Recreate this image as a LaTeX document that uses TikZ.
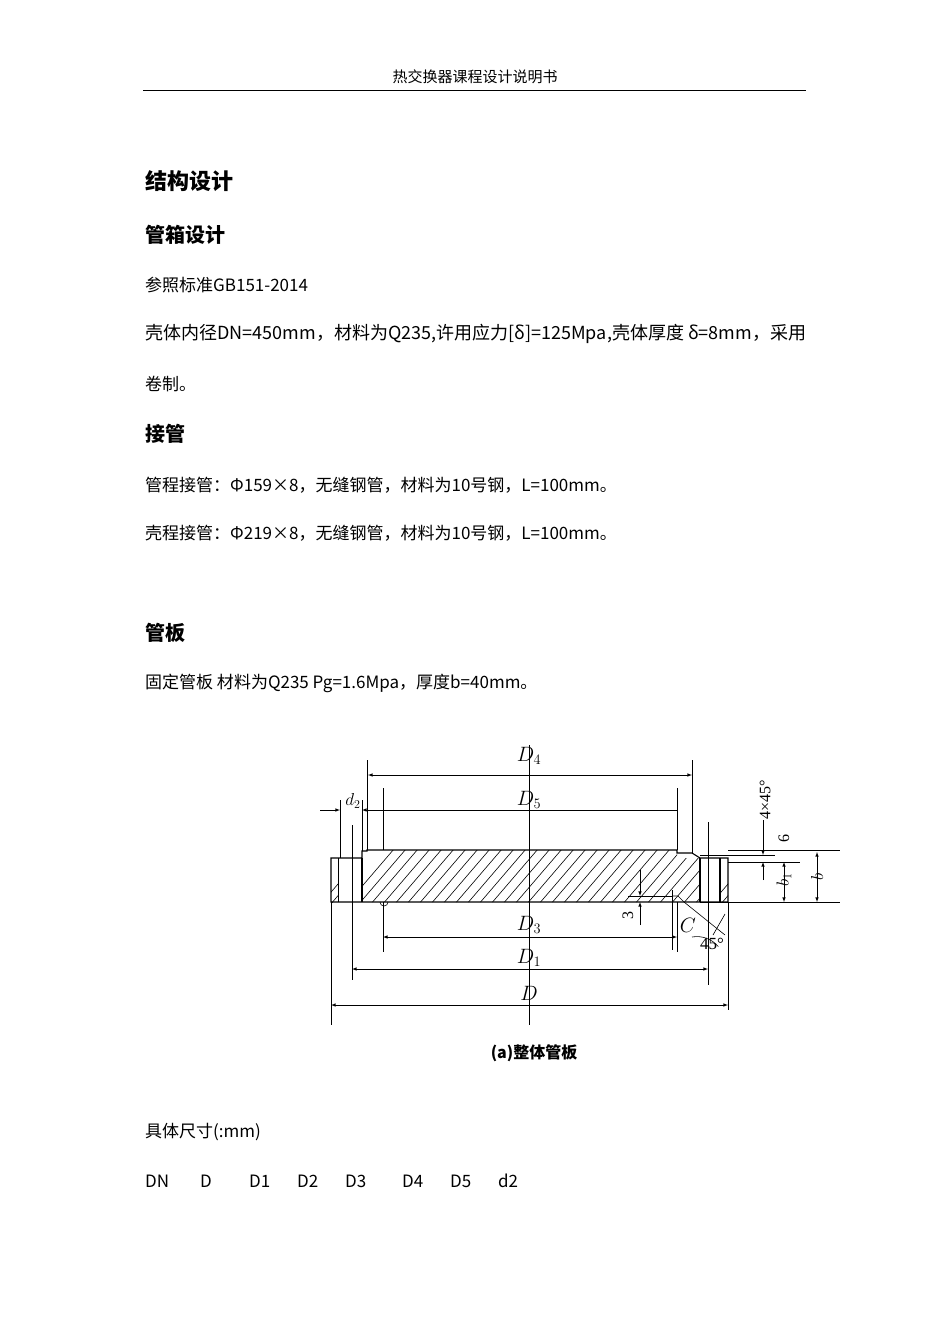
\documentclass[tikz,border=0pt]{standalone}
\usepackage{fontspec}
\setmainfont{Noto Sans CJK SC}
\newfontfamily\latn{Liberation Serif}
\begin{document}
\begin{tikzpicture}[x=1pt,y=-1pt,
 txt/.style={anchor=west,inner sep=0,font=\fontsize{17}{17}\selectfont},
 hd/.style={anchor=west,inner sep=0,font=\fontsize{20}{20}\selectfont\bfseries},
 ln/.style={line width=1.1pt},
 thin/.style={line width=0.6pt},
 dim/.style={line width=0.6pt,-latex},
 dl/.style={font=\fontsize{21}{21}\selectfont\latn\itshape,inner sep=1pt}]
\useasboundingbox (0,0) rectangle (950,1344);
\node[inner sep=0,font=\fontsize{15}{15}\selectfont] (hdr) at (475,77) {热交换器课程设计说明书};
\draw[line width=0.8pt] (143,90) -- (806,90);
\node[hd,font=\fontsize{22}{22}\selectfont\bfseries] (h1) at (145,181) {结构设计};
\node[hd] (h2) at (145,235) {管箱设计};
\node[txt] (t1) at (145,285) {参照标准GB151-2014};
\node[txt] (t2) at (145,334) {\resizebox{661pt}{!}{壳体内径DN=450mm，材料为Q235,许用应力[δ]=125Mpa,壳体厚度 δ=8mm，采用}};
\node[txt] (t3) at (145,384) {卷制。};
\node[hd] (h3) at (145,434) {接管};
\node[txt] (t4) at (145,485) {管程接管：Φ159×8，无缝钢管，材料为10号钢，L=100mm。};
\node[txt] (t5) at (145,533) {壳程接管：Φ219×8，无缝钢管，材料为10号钢，L=100mm。};
\node[hd] (h4) at (145,633) {管板};
\node[txt] (t6) at (145,683) {固定管板 材料为Q235 Pg=1.6Mpa，厚度b=40mm。};
\node[txt] (t7) at (145,1132) {具体尺寸(:mm)};
\foreach \x/\s in {145/DN,200/D,249/D1,297/D2,345/D3,402/D4,450/D5,498/d2}
  \node[txt] at (\x,1181) {\s};
% drawing
\begin{scope}
\clip (362,858) -- (367,858) -- (367,850) -- (677,850) -- (677,858) -- (700,858) -- (700,902) -- (362,902) -- cycle;
\foreach \i in {0,...,32} \draw[thin] (340+\i*12,912) -- ++(60,-70);
\end{scope}
\begin{scope}
\clip (331,858) rectangle (338,902);
\foreach \i in {0,...,4} \draw[thin] (320+\i*10,905) -- ++(30,-35);
\end{scope}
\begin{scope}
\clip (720,858) rectangle (728,902);
\foreach \i in {0,...,4} \draw[thin] (710+\i*10,905) -- ++(30,-35);
\end{scope}
\draw[ln] (331,902) -- (331,858) -- (362,858) -- (362,851) -- (367,851) -- (367,850) -- (383,850) -- (677,850) -- (677,853) -- (692,853) -- (700,858) -- (728,858) -- (728,902) -- cycle;
\draw[ln] (362,858) -- (362,902);
\draw[ln] (700,858) -- (700,902);
\draw[ln] (720,858) -- (720,902);
\draw[thin] (338,858) -- (338,902);
\draw[thin] (340,800) -- (340,858) (362,800) -- (362,851);
\draw[thin] (367,760) -- (367,850) (383,788) -- (383,850);
\draw[thin] (677,788) -- (677,850) (692,760) -- (692,853);
\draw[thin] (352,825) -- (352,980);
\draw[thin] (708,822) -- (708,985);
\draw[thin] (672,890) -- (672,950) (677,902) -- (677,952);
\draw[thin] (383,902) -- (383,952);
\draw[thin] (331,902) -- (331,1025) (728,902) -- (728,1010);
\draw[thin] (529,745) -- (529,1025);
\draw[thin] (380,902) arc (180:0:4);
\draw[thin] (672,896) -- (678,896) -- (684,902);
\draw[thin] (628,896) -- (672,896);
% dimensions
\draw[dim,latex-latex] (368,775) -- (692,775);
\node[dl] (d4) at (529,756) {$D_4$};
\draw[dim] (320,810) -- (340,810);
\draw[dim,latex-] (362,810) -- (677,810);
\node[dl] (d5) at (529,800) {$D_5$};
\node[dl,font=\fontsize{18}{18}\selectfont\latn\itshape] (dd2) at (353,801) {$d_2$};
\draw[dim,latex-latex] (383,937) -- (677,937);
\node[dl] (d3) at (529,925) {$D_3$};
\draw[dim,latex-latex] (352,969) -- (708,969);
\node[dl] (d1) at (529,958) {$D_1$};
\draw[dim,latex-latex] (331,1005) -- (728,1005);
\node[dl] (dd) at (529,993) {$D$};
\draw[thin] (728,850) -- (840,850) (700,902) -- (840,902);
\draw[thin] (700,855) -- (775,855) (728,862) -- (800,862);
\draw[dim,latex-latex] (817,852) -- (817,902);
\node[dl,rotate=90,font=\fontsize{18}{18}\selectfont\latn\itshape] (lb) at (817,877) {$b$};
\draw[dim,latex-latex] (784,862) -- (784,902);
\node[dl,rotate=90,font=\fontsize{18}{18}\selectfont\latn\itshape] (lb1) at (784,880) {$b_1$};
\draw[dim] (763,820) -- (763,855);
\draw[dim] (763,880) -- (763,862);
\node[dl,rotate=90,font=\fontsize{16}{16}\selectfont\latn] (l6) at (784,838) {6};
\node[dl,rotate=90,font=\fontsize{16}{16}\selectfont\latn] (l4) at (765,800) {4×45°};
\draw[dim] (640,870) -- (640,896);
\draw[dim] (640,925) -- (640,902);
\node[dl,rotate=90,font=\fontsize{16}{16}\selectfont\latn] (l3) at (628,915) {3};
\node[dl] (lc) at (688,925) {$C$};
\node[dl,font=\fontsize{17}{17}\selectfont\latn] (l45) at (712,944) {45°};
\draw[thin] (684,902) -- (725,935);
\draw[thin] (713,935) -- (725,914);
\draw[thin] (692,937) arc (-100:-40:28);
\node[inner sep=0,font=\fontsize{16}{16}\selectfont\bfseries] (cap) at (534,1053) {(a)整体管板};
\end{tikzpicture}
\end{document}
